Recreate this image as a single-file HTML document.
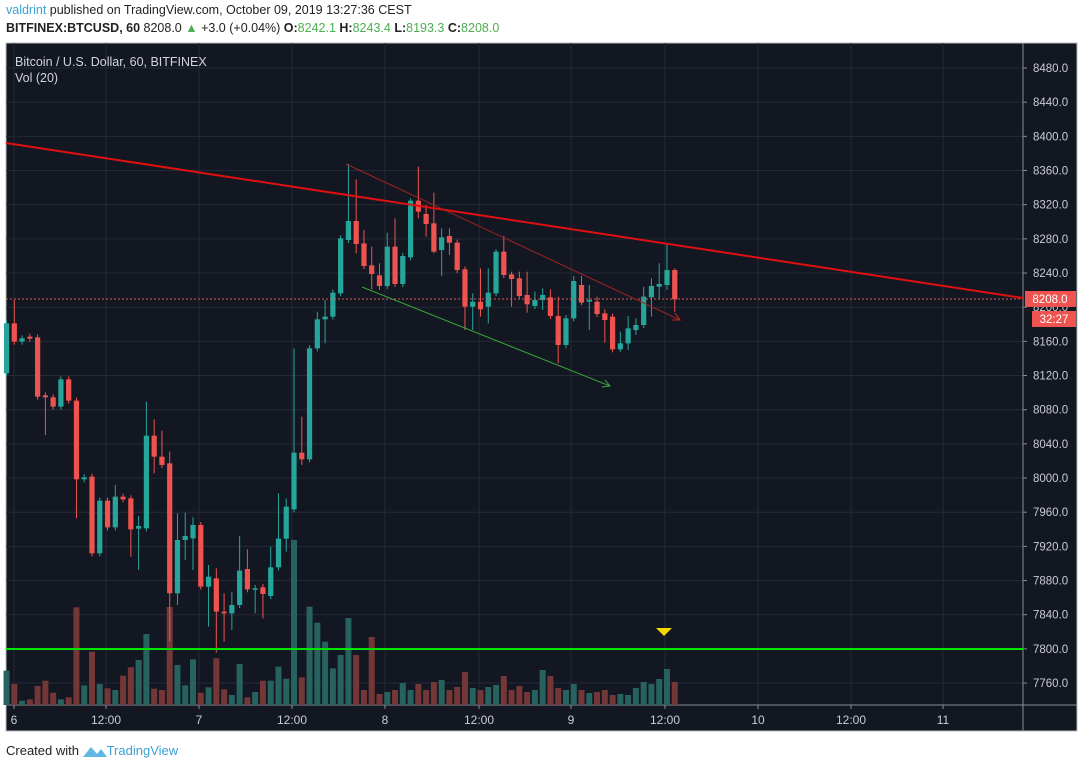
<!DOCTYPE html>
<html><head><meta charset="utf-8">
<style>
html,body{margin:0;padding:0;background:#fff;width:1083px;height:768px;overflow:hidden;font-family:"Liberation Sans",Arial,sans-serif;}
#hdr1{position:absolute;left:6px;top:3px;font-size:12.5px;color:#222;white-space:nowrap}
#hdr2{position:absolute;left:6px;top:21px;font-size:12.5px;color:#222;white-space:nowrap}
.g{color:#4caf50}
#foot{position:absolute;left:6px;top:741px;font-size:13px;color:#222;white-space:nowrap}
svg{position:absolute;left:0;top:0}
</style></head><body>
<div id="hdr1"><span style="color:#3ba0d3">valdrint</span> published on TradingView.com, October 09, 2019 13:27:36 CEST</div>
<div id="hdr2"><b>BITFINEX:BTCUSD, 60</b> 8208.0 <span style="color:#4caf50">▲</span> +3.0 (+0.04%) <b>O:</b><span class="g">8242.1</span> <b>H:</b><span class="g">8243.4</span> <b>L:</b><span class="g">8193.3</span> <b>C:</b><span class="g">8208.0</span></div>
<div id="foot">Created with <svg style="position:relative;left:0;top:3px" width="24" height="14" viewBox="0 0 24 14"><path d="M0 13 L8 3 L14 10 L18 5 L24 13 Z" fill="#5fb8e0"/></svg><span style="color:#3ba0d3">TradingView</span></div>
<svg id="c" width="1083" height="768" xmlns="http://www.w3.org/2000/svg"></svg>
<script>
const S=document.getElementById('c');let h='';
const X0=6,X1=1077,Y0=43,Y1=731,PA=1023,TA=705;
h+=`<rect x="${X0}" y="${Y0}" width="${X1-X0}" height="${Y1-Y0}" fill="#131722" stroke="#b8bcc4" stroke-width="1"/>`;
const py=p=>68+(8480-p)/40*34.17;
for(let p=7760;p<=8480;p+=40){const y=py(p);h+=`<line x1="${X0}" x2="${PA}" y1="${y}" y2="${y}" stroke="#262a36"/>`;
h+=`<line x1="${PA}" x2="${PA+4}" y1="${y}" y2="${y}" stroke="#8a8e98"/>`;
h+=`<text x="${PA+10}" y="${y+4}" fill="#c9ccd3" font-size="11.5">${p.toFixed(1)}</text>`;}
const tks=[[14,'6'],[106,'12:00'],[199,'7'],[292,'12:00'],[385,'8'],[479,'12:00'],[571,'9'],[665,'12:00'],[758,'10'],[851,'12:00'],[943,'11']];
for(const [x,t] of tks){h+=`<line x1="${x}" x2="${x}" y1="${Y0}" y2="${TA}" stroke="#262a36"/>`;
h+=`<line x1="${x}" x2="${x}" y1="${TA}" y2="${TA+4}" stroke="#8a8e98"/>`;
h+=`<text x="${x}" y="${TA+19}" fill="#c9ccd3" font-size="12" text-anchor="middle">${t}</text>`;}
h+=`<line x1="${PA}" x2="${PA}" y1="${Y0}" y2="${Y1}" stroke="#8a8e98"/>`;
h+=`<line x1="${X0}" x2="${X1}" y1="${TA}" y2="${TA}" stroke="#8a8e98"/>`;
// candles zoom2
const z2=[[22,130,280,'g'],[43,130,185,'r',60],[65,175,185,'g'],[88,170,176,'r'],[112,172,350,'r'],[132,346,352,'r',null,465],[157,352,380,'r'],[181,298,380,'g'],[205,298,362,'r'],[227,362,598,'r',null,715],[250,592,598,'g'],[273,590,820,'r'],[297,662,820,'g'],[320,662,742,'r'],[343,650,742,'g',615],[367,650,658,'r'],[392,655,748,'r',null,830],[412,738,746,'g',708,870],[436,467,745,'g',365],[460,467,530,'r',418,580],[484,530,555,'r',452],[507,550,940,'r',515,1085],[529,780,940,'g',700,975],[553,768,780,'g',698,840],[577,735,775,'g',712,870],[598,735,920,'r'],[622,890,920,'g',855,1040],[646,895,995,'r',865,1118],[668,995,1000,'r',940,1085],[691,975,1000,'g',935,1050],[715,872,975,'g',768],[739,867,928,'r',808],[760,925,928,'g',915,1000],[784,922,942,'r',912,1015],[808,862,948,'g',800],[831,776,862,'g',640],[854,680,776,'g',655,815],[877,518,688,'g',205],[901,518,538,'r',410,555],[925,205,538,'g'],[946,118,205,'g',95],[970,110,118,'g',60,190],[994,38,110,'g']];
const z3=[[28,265,430,'g'],[50,213,270,'g',42],[73,213,282,'r',88,310],[98,280,348,'r',240],[122,346,372,'r',290,418],[144,376,408,'r',340,420],[167,290,408,'g',248],[190,290,402,'r',205],[212,318,402,'g'],[236,152,322,'g',145],[260,152,185,'r',50,205],[284,192,222,'r',165,260],[305,220,305,'r',128,310],[329,262,300,'g',235,378],[352,258,278,'r',235,315],[377,278,360,'r'],[398,358,470,'r',null,540],[422,455,470,'g',430,540],[446,455,478,'r',355,500],[470,428,470,'g',355,520],[490,305,430,'g',298],[515,305,375,'r',258],[540,373,387,'r',365,470],[563,385,438,'r',365],[585,435,463,'r',365,488],[608,450,468,'g',425],[632,435,450,'g',415,480],[656,442,498,'r',418],[678,498,585,'r',440,640],[702,505,585,'g',495,595],[725,393,505,'g',378],[748,405,458,'r',378,465],[770,450,455,'g',405,540],[794,455,492,'r',440],[818,490,510,'r',478,578],[840,500,598,'r'],[862,580,598,'g',545,605],[886,535,580,'g',498,600],[910,525,540,'g',505,555],[932,440,525,'g',410],[956,408,442,'g',385,500],[980,402,410,'g',340,448],[1004,360,405,'g',280,420],[1026,360,448,'r',355,485]];
const C=[];
for(const d of z2){const i=Math.round((d[0]-43)/23.3);const f=z=>280+z/3;C.push([i,f(d[1]),f(d[2]),d[3],d[4]!=null?f(d[4]):null,d[5]!=null?f(d[5]):null]);}
for(let k=0;k<z3.length;k++){const d=z3[k];const i=42+k;const f=z=>150+z/3;C.push([i,f(d[1]),f(d[2]),d[3],d[4]!=null?f(d[4]):null,d[5]!=null?f(d[5]):null]);}
const vx=i=>14.3+i*7.77;
// volume
const v2=[1172,1212,1262,1258,1218,1202,1238,1258,1252,982,1216,1115,1212,1225,1230,1187,1162,1140,1062,1226,1230,981,1155,1216,1138,1238,1222,1135,1228,1245,1152,1252,1236,1202,1202,1160,1196,780,1192,980,1028,1085,1165,1125].map(z=>280+z/3);
const v3=[618,655,690,637,694,692,690,683,690,684,690,682,680,690,687,672,688,690,687,685,676,690,686,692,690,670,676,688,690,684,690,693,692,690,695,694,695,688,682,684,679,669,682];
const vol=v2.concat(v3);
for(let k=0;k<C.length&&k<vol.length;k++){const c=C[k];const x=vx(c[0]);h+=`<rect x="${x-3}" y="${vol[k]}" width="6" height="${TA-vol[k]}" fill="${c[3]=='g'?'#27625f':'#733737'}"/>`;}
for(const c of C){const x=vx(c[0]);const col=c[3]=='g'?'#26a69a':'#ef5350';
const t=c[4]!=null?c[4]:c[1]-3,b=c[5]!=null?c[5]:c[2]+3;
h+=`<line x1="${x}" x2="${x}" y1="${t}" y2="${b}" stroke="${col}" stroke-width="1"/>`;
h+=`<rect x="${x-2.6}" y="${c[1]}" width="5.2" height="${Math.max(1.5,c[2]-c[1])}" fill="${col}"/>`;}
// lines
h+=`<line x1="${X0}" x2="${PA}" y1="299" y2="299" stroke="#d45a5a" stroke-width="1" stroke-dasharray="2,2"/>`;
h+=`<line x1="${X0}" x2="${PA}" y1="649" y2="649" stroke="#00e600" stroke-width="2"/>`;
h+=`<line x1="${X0}" x2="${PA}" y1="143" y2="298" stroke="#e01010" stroke-width="2"/>`;
h+=`<line x1="346" x2="680" y1="164" y2="320" stroke="#9c2424" stroke-width="1"/><path d="M672 320 L680 320 L675 313" fill="none" stroke="#c62828"/>`;
h+=`<line x1="362" x2="610" y1="287" y2="386" stroke="#3aa43a" stroke-width="1"/><path d="M602 387 L610 386 L605 380" fill="none" stroke="#3aa43a"/>`;
h+=`<path d="M656 628 L672 628 L664 636 Z" fill="#f5d800"/>`;
h+=`<rect x="1025" y="291" width="51" height="16" fill="#ef5350"/><text x="1050" y="303" fill="#fff" font-size="11.5" text-anchor="middle">8208.0</text>`;
h+=`<rect x="1032" y="311" width="44" height="16" fill="#ef5350"/><text x="1054" y="323" fill="#fff" font-size="11.5" text-anchor="middle">32:27</text>`;
h+=`<text x="15" y="66" fill="#d1d4dc" font-size="12.5">Bitcoin / U.S. Dollar, 60, BITFINEX</text>`;
h+=`<text x="15" y="82" fill="#d1d4dc" font-size="12.5">Vol (20)</text>`;
S.innerHTML=h;
</script>
</body></html>
